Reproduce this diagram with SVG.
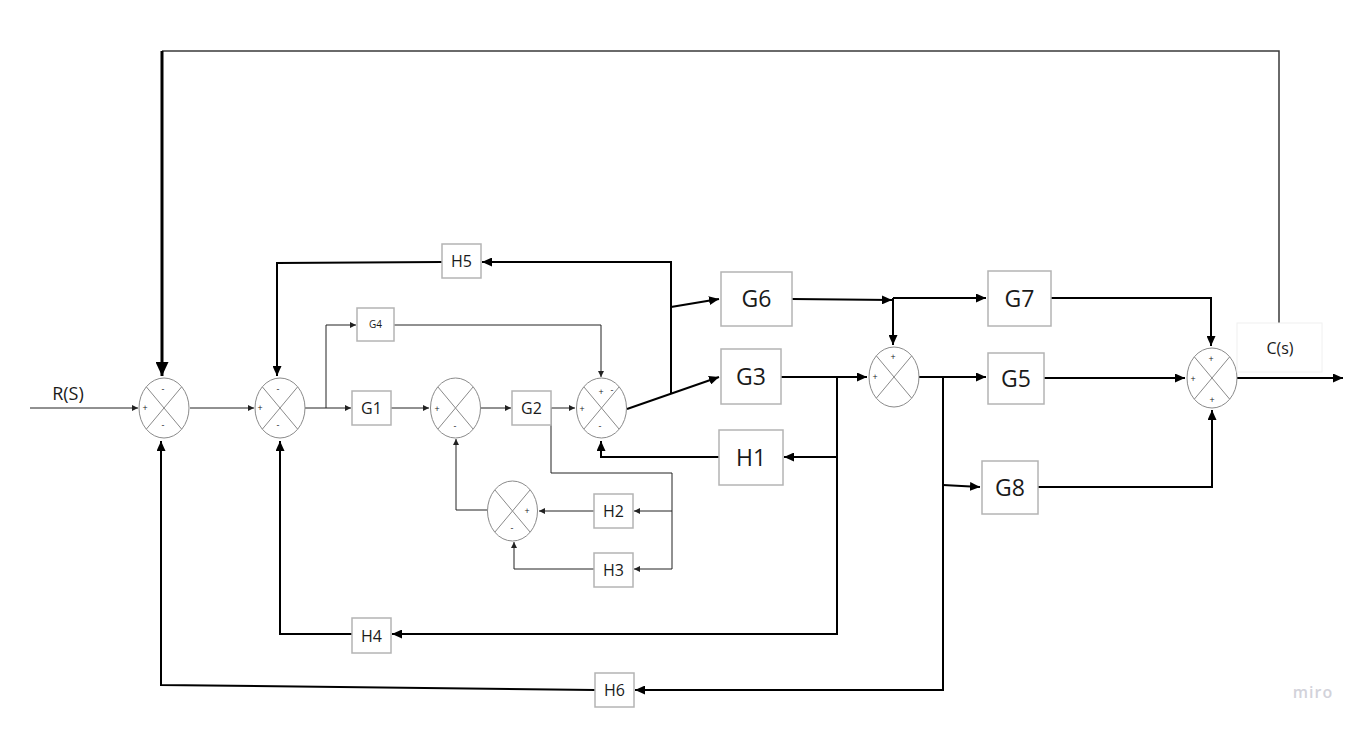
<svg xmlns="http://www.w3.org/2000/svg" xmlns:xlink="http://www.w3.org/1999/xlink" width="1366" height="731" viewBox="0 0 1366 731">
  <style>
    .box { fill: #ffffff; stroke: #b4b4b4; stroke-width: 1.5; }
    .lbl { font-family: "Open Sans", "Liberation Sans", sans-serif; fill: #1a1a1a; text-anchor: middle; }
    .sm { font-size: 16px; }
    .lg { font-size: 23px; }
    .tiny { font-size: 10px; }
    .sg { font-family: "Open Sans", "Liberation Sans", sans-serif; font-size: 9px; fill: #222; text-anchor: middle; }
    .sj ellipse { fill: #ffffff; stroke: #8a8a8a; stroke-width: 1; }
    .sj line { stroke: #8a8a8a; stroke-width: 1; }
    .thin { fill: none; stroke: #222; stroke-width: 1; marker-end: url(#aThin); }
    .thick { fill: none; stroke: #000; stroke-width: 2; marker-end: url(#aThick); }
  </style>
  <defs>
    <marker id="aThin" markerUnits="userSpaceOnUse" markerWidth="6" markerHeight="6" refX="6" refY="3" orient="auto">
      <path d="M0,0 L6,3 L0,6 z" fill="#222"/>
    </marker>
    <marker id="aThick" markerUnits="userSpaceOnUse" markerWidth="10" markerHeight="9" refX="10" refY="4.5" orient="auto">
      <path d="M0,0 L10,4.5 L0,9 z" fill="#000"/>
    </marker>
    <marker id="aBig" markerUnits="userSpaceOnUse" markerWidth="14" markerHeight="13" refX="14" refY="6.5" orient="auto">
      <path d="M0,0 L14,6.5 L0,13 z" fill="#000"/>
    </marker>
    <!-- summing junction: ellipse with a cross -->
    <g id="sum" class="sj">
      <ellipse cx="0" cy="0" rx="25" ry="30"/>
      <line x1="-17.7" y1="-21.2" x2="17.7" y2="21.2"/>
      <line x1="17.7" y1="-21.2" x2="-17.7" y2="21.2"/>
    </g>
  </defs>

  <rect width="1366" height="731" fill="#ffffff"/>

  <!-- connectors -->
  <g id="connectors">
    <!-- thin signal paths around the inner loops -->
    <path class="thin" d="M30,408 H138"/>
    <path class="thin" d="M190,408 H254"/>
    <path class="thin" d="M305,408 H351"/>
    <path class="thin" d="M326,408 V325 H356"/>
    <path class="thin" d="M394,325 H601 V377"/>
    <path class="thin" d="M391,408 H429"/>
    <path class="thin" d="M481,408 H511"/>
    <path class="thin" d="M551,408 H575"/>
    <path class="thin" d="M551,408 V473 H672 V569 H634"/>
    <path class="thin" d="M672,511 H634"/>
    <path class="thin" d="M594,511 H539"/>
    <path class="thin" d="M594,569 H514 V542"/>
    <path class="thin" d="M487,510 H456 V439"/>

    <!-- outer unity feedback from C(s) -->
    <path fill="none" stroke="#3a3a3a" stroke-width="1.5" d="M1279,323 V51 H162"/>
    <path fill="none" stroke="#000" stroke-width="3" marker-end="url(#aBig)" d="M162,51 V376"/>

    <!-- H5 loop -->
    <path class="thick" d="M671,393 V262 H482"/>
    <path class="thick" d="M442,262 L277,263 V376"/>

    <!-- forward paths to G3 and G6 -->
    <path class="thick" d="M627,409 L719,377"/>
    <path class="thick" d="M671,307 L719,299"/>
    <path class="thick" d="M792,299 L892,300"/>
    <path class="thick" d="M893,298 H986"/>
    <path class="thick" d="M893,298 V345"/>
    <path class="thick" d="M781,377 H867"/>

    <!-- H1 and H4 feedback -->
    <path class="thick" d="M837,377 V634 H392"/>
    <path class="thick" d="M837,457 H784"/>
    <path class="thick" d="M719,457 H601 V441"/>
    <path class="thick" d="M352,634 H280 V441"/>

    <!-- after second summing point -->
    <path class="thick" d="M919,377 H986"/>
    <path class="thick" d="M943,377 V690 H635"/>
    <path class="thick" d="M595,690 L161,685 V441"/>
    <path class="thick" d="M943,485 L980,487"/>
    <path class="thick" d="M1038,487 H1212 V410"/>
    <path class="thick" d="M1051,298 H1211 V346"/>
    <path class="thick" d="M1044,378 H1185"/>
    <path class="thick" d="M1237,378 H1343"/>
  </g>

  <!-- summing junctions -->
  <g id="S1">
    <use xlink:href="#sum" x="164" y="408"/>
    <text class="sg" x="163" y="392">-</text>
    <text class="sg" x="145" y="411">+</text>
    <text class="sg" x="163" y="428">-</text>
  </g>
  <g id="S2">
    <use xlink:href="#sum" x="280" y="408"/>
    <text class="sg" x="278" y="392">-</text>
    <text class="sg" x="260" y="411">+</text>
    <text class="sg" x="278" y="428">-</text>
  </g>
  <g id="S3">
    <use xlink:href="#sum" x="455.5" y="408"/>
    <text class="sg" x="437" y="412">+</text>
    <text class="sg" x="455" y="429">-</text>
  </g>
  <g id="S4">
    <use xlink:href="#sum" x="601.5" y="408"/>
    <text class="sg" x="582" y="412">+</text>
    <text class="sg" x="601" y="395">+</text>
    <text class="sg" x="612" y="393">-</text>
    <text class="sg" x="600" y="429">-</text>
  </g>
  <g id="S5">
    <use xlink:href="#sum" x="512.5" y="511"/>
    <text class="sg" x="527" y="514">+</text>
    <text class="sg" x="512" y="531">-</text>
  </g>
  <g id="S6">
    <use xlink:href="#sum" x="894" y="377"/>
    <text class="sg" x="893" y="360">+</text>
    <text class="sg" x="875" y="380">+</text>
  </g>
  <g id="S7">
    <use xlink:href="#sum" x="1212" y="378"/>
    <text class="sg" x="1211" y="362">+</text>
    <text class="sg" x="1193" y="382">+</text>
    <text class="sg" x="1212" y="403">+</text>
  </g>

  <!-- blocks -->
  <g id="G1"><rect class="box" x="352" y="391" width="39" height="34"/><text class="lbl sm" x="371.5" y="414">G1</text></g>
  <g id="G2"><rect class="box" x="512" y="391" width="39" height="34"/><text class="lbl sm" x="531.5" y="414">G2</text></g>
  <g id="G4"><rect class="box" x="357" y="308" width="37" height="33"/><text class="lbl tiny" x="375.5" y="328">G4</text></g>
  <g id="H2"><rect class="box" x="594" y="494" width="39" height="34"/><text class="lbl sm" x="613.5" y="517">H2</text></g>
  <g id="H3"><rect class="box" x="594" y="553" width="39" height="34"/><text class="lbl sm" x="613.5" y="576">H3</text></g>
  <g id="H4"><rect class="box" x="352" y="618" width="39" height="35"/><text class="lbl sm" x="371.5" y="641.5">H4</text></g>
  <g id="H5"><rect class="box" x="442" y="244" width="39" height="34"/><text class="lbl sm" x="461.5" y="267">H5</text></g>
  <g id="H6"><rect class="box" x="595" y="673" width="39" height="34"/><text class="lbl sm" x="614.5" y="696">H6</text></g>
  <g id="G6"><rect class="box" x="721" y="272" width="71" height="54"/><text class="lbl lg" x="756.5" y="307">G6</text></g>
  <g id="G3"><rect class="box" x="721" y="349" width="60" height="55"/><text class="lbl lg" x="751" y="384.5">G3</text></g>
  <g id="H1"><rect class="box" x="719" y="430" width="64" height="55"/><text class="lbl lg" x="751" y="465.5">H1</text></g>
  <g id="G7"><rect class="box" x="988" y="271" width="63" height="55"/><text class="lbl lg" x="1019.5" y="306.5">G7</text></g>
  <g id="G5"><rect class="box" x="988" y="353" width="56" height="51"/><text class="lbl lg" x="1016" y="386.5">G5</text></g>
  <g id="G8"><rect class="box" x="982" y="461" width="56" height="53"/><text class="lbl lg" x="1010" y="495.5">G8</text></g>

  <!-- input / output labels -->
  <g id="Rs"><text class="lbl" style="font-size:18px" x="68" y="400">R(S)</text></g>
  <g id="Cs">
    <rect x="1237" y="323" width="85" height="49" fill="none" stroke="#f0f0f0" stroke-width="1"/>
    <text class="lbl" style="font-size:16px" x="1280" y="354">C(s)</text>
  </g>

  <text x="1313" y="698" font-family="Open Sans, Liberation Sans, sans-serif" font-size="16" font-weight="600" letter-spacing="1" fill="#d2d2da" text-anchor="middle">miro</text>
</svg>
